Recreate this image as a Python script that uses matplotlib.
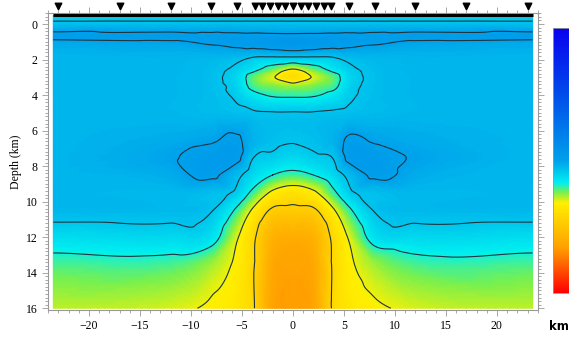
import numpy as np
import matplotlib
matplotlib.use("Agg")
import matplotlib.pyplot as plt
from matplotlib.colors import LinearSegmentedColormap
import matplotlib.tri as mtri
from matplotlib.ticker import MultipleLocator

# model nodes (km)
x_nodes = [-23.5, -12, -8, -5.5, -4, -2, 0, 2, 4, 5.5, 8, 12, 23.5]
z_nodes = [-0.5, 0, 0.7, 1, 2, 2.5, 3, 3.5, 4, 5, 6.5, 7.5, 8.5, 9.5, 10.5, 12, 13.5, 16]

# relative value at the nodes (0 = red end, 1 = blue end of the scale)
model = [
    [0.445, 0.445, 0.445, 0.445, 0.445, 0.445, 0.445, 0.445, 0.445, 0.445, 0.445, 0.445, 0.445],
    [0.468, 0.468, 0.468, 0.468, 0.468, 0.468, 0.468, 0.468, 0.468, 0.468, 0.468, 0.468, 0.468],
    [0.51, 0.51, 0.51, 0.51, 0.51, 0.51, 0.51, 0.51, 0.51, 0.51, 0.51, 0.51, 0.51],
    [0.493, 0.497, 0.505, 0.512, 0.518, 0.525, 0.53, 0.525, 0.518, 0.512, 0.505, 0.497, 0.493],
    [0.478, 0.478, 0.474, 0.466, 0.452, 0.445, 0.442, 0.445, 0.452, 0.466, 0.474, 0.478, 0.478],
    [0.478, 0.478, 0.47, 0.452, 0.43, 0.39, 0.35, 0.39, 0.43, 0.452, 0.47, 0.478, 0.478],
    [0.478, 0.477, 0.468, 0.44, 0.39, 0.35, 0.30, 0.35, 0.39, 0.44, 0.468, 0.477, 0.478],
    [0.478, 0.477, 0.469, 0.445, 0.398, 0.38, 0.37, 0.38, 0.398, 0.445, 0.469, 0.477, 0.478],
    [0.478, 0.477, 0.47, 0.452, 0.425, 0.405, 0.402, 0.405, 0.425, 0.452, 0.47, 0.477, 0.478],
    [0.478, 0.477, 0.472, 0.468, 0.465, 0.462, 0.462, 0.462, 0.465, 0.468, 0.472, 0.477, 0.478],
    [0.478, 0.488, 0.496, 0.505, 0.482, 0.468, 0.463, 0.468, 0.482, 0.505, 0.496, 0.488, 0.478],
    [0.478, 0.497, 0.512, 0.51, 0.463, 0.452, 0.44, 0.452, 0.463, 0.51, 0.512, 0.497, 0.478],
    [0.478, 0.488, 0.507, 0.47, 0.44, 0.41, 0.395, 0.41, 0.44, 0.47, 0.507, 0.488, 0.478],
    [0.478, 0.475, 0.468, 0.45, 0.40, 0.335, 0.312, 0.335, 0.40, 0.45, 0.468, 0.475, 0.478],
    [0.475, 0.473, 0.462, 0.40, 0.34, 0.27, 0.265, 0.27, 0.34, 0.40, 0.462, 0.473, 0.475],
    [0.435, 0.44, 0.43, 0.35, 0.295, 0.21, 0.20, 0.21, 0.295, 0.35, 0.43, 0.44, 0.435],
    [0.395, 0.395, 0.37, 0.335, 0.29, 0.19, 0.18, 0.19, 0.29, 0.335, 0.37, 0.395, 0.395],
    [0.36, 0.352, 0.338, 0.32, 0.29, 0.18, 0.17, 0.18, 0.29, 0.32, 0.338, 0.352, 0.36],
]
contour_levels = [0.28, 0.345, 0.41, 0.46, 0.50]

# seismic stations along the surface (km)
stations = [-23, -17, -12, -8, -5.5, -3.75, -3, -2.25, -1.5, -0.75, 0,
            0.75, 1.5, 2.25, 3, 3.75, 5.5, 8, 12, 17, 23]

cmap = LinearSegmentedColormap.from_list("vel", [
    (0.00, (1.00, 0.00, 0.00)),
    (0.17, (1.00, 0.63, 0.00)),
    (0.34, (1.00, 0.94, 0.00)),
    (0.38, (0.47, 0.94, 0.31)),
    (0.415, (0.00, 0.94, 0.94)),
    (0.50, (0.00, 0.63, 0.92)),
    (0.75, (0.00, 0.30, 0.92)),
    (1.00, (0.04, 0.00, 0.94)),
])

plt.rcParams['font.family'] = ['Liberation Serif', 'DejaVu Serif']

fig = plt.figure(figsize=(5.69, 3.38), dpi=100)
ax = fig.add_axes([0.0844, 0.0828, 0.861, 0.8787])

X, Z = np.meshgrid(x_nodes, z_nodes)
V = np.array(model)
tri = mtri.Triangulation(X.ravel(), Z.ravel())
interp = mtri.CubicTriInterpolator(tri, V.ravel(), kind='geom')
refiner = mtri.UniformTriRefiner(tri)
tri_f, v_f = refiner.refine_field(V.ravel(), triinterpolator=interp, subdiv=4)

ax.tripcolor(tri_f, v_f, cmap=cmap, vmin=0, vmax=1, shading='gouraud', rasterized=True)
ax.tricontour(tri_f, v_f, levels=contour_levels, colors='#1f3540', linewidths=0.8)

# surface line and stations
ax.plot([x_nodes[0], x_nodes[-1]], [z_nodes[0], z_nodes[0]], color='black', lw=2.2,
        solid_capstyle='butt', clip_on=False, zorder=5)
ax.scatter(stations, [1.025] * len(stations), marker='v', s=22, color='black',
           transform=ax.get_xaxis_transform(), clip_on=False, zorder=6)

ax.set_xlim(-24.02, 24.02)
ax.set_ylim(16.1, -0.62)
ax.xaxis.set_major_locator(MultipleLocator(5))
ax.xaxis.set_minor_locator(MultipleLocator(1))
ax.yaxis.set_major_locator(MultipleLocator(2))
ax.yaxis.set_minor_locator(MultipleLocator(0.2))
ax.tick_params(which='both', direction='out', colors='#999999', labelcolor='black',
               labelsize=8.5, top=True, right=True, width=0.6)
ax.tick_params(which='major', length=4)
ax.tick_params(which='minor', length=2.2)
for s in ax.spines.values():
    s.set_color('#999999')
    s.set_linewidth(0.8)
ax.set_ylabel('Depth (km)', fontsize=8.5, labelpad=3)

# colour scale (values to the right fall off the picture)
cax = fig.add_axes([0.972, 0.133, 0.06, 0.784])
grad = np.linspace(0, 1, 256).reshape(-1, 1)
cax.imshow(grad, cmap=cmap, aspect='auto', origin='lower', extent=[0, 1, 0, 1])
cax.set_xticks([])
cax.set_yticks([])
for s in cax.spines.values():
    s.set_color('#999999')
    s.set_linewidth(0.6)

fig.text(0.965, 0.033, 'km', fontsize=8.5, fontweight='bold', family='DejaVu Sans',
         va='center', ha='left')

fig.savefig('out.png', dpi=100)
